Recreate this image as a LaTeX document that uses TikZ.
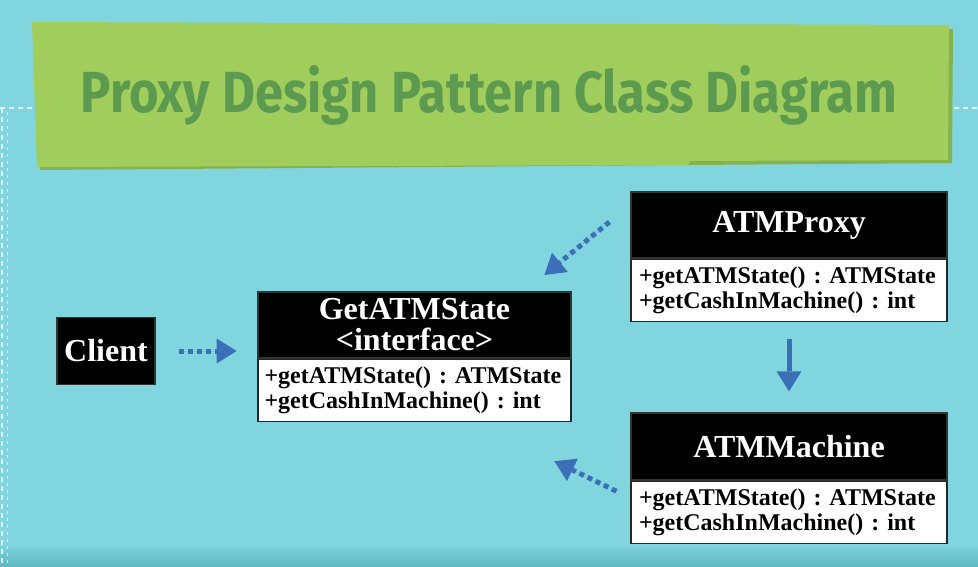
\documentclass[tikz,border=0pt]{standalone}
\usepackage{fontspec}
\setmainfont{Liberation Serif}
\newfontfamily\titlefont{Fira Sans}
\usetikzlibrary{arrows.meta,calc}
\frenchspacing
\definecolor{bgc}{HTML}{80D5DF}
\definecolor{bandc}{HTML}{5DB6C0}
\definecolor{bannerc}{HTML}{A0CD5C}
\definecolor{bannershade}{HTML}{86B24E}
\definecolor{titlec}{HTML}{5C9A50}
\definecolor{arrowc}{HTML}{3B70B8}
\tikzset{
  headbox/.style={draw=black!80, line width=1.2pt, fill=black, text=white,
    font=\bfseries\fontsize{32}{32}\selectfont, align=center, inner sep=0pt},
  bodybox/.style={draw=black!85, line width=1.2pt, fill=white, text=black,
    font=\bfseries\fontsize{24}{24.5}\selectfont, align=left, inner sep=0pt,
    text width=300pt},
  dotarrow/.style={draw=arrowc, line width=5pt, dash pattern=on 5pt off 4pt,
    -{Triangle[length=20pt,width=25pt,line width=0pt,sep=0pt]}, fill=arrowc},
  solidarrow/.style={draw=arrowc, line width=5pt,
    -{Triangle[length=20pt,width=25pt,line width=0pt]}, fill=arrowc},
  guide/.style={white, line width=1.5pt, dash pattern=on 5pt off 4pt, opacity=0.75},
}
\begin{document}
\begin{tikzpicture}[x=1pt,y=-1pt]
\useasboundingbox (0,0) rectangle (978,567);
% background
\fill[bgc] (0,0) rectangle (978,567);
\shade[top color=bgc, bottom color=bandc] (0,545) rectangle (978,567);
\draw[guide] (0,108) -- (978,108);
\draw[guide] (2,108) -- (2,567);
\draw[guide, line width=1pt, dash pattern=on 3pt off 4pt] (7,112) -- (7,567);
% banner
\fill[bannershade] (36,27) -- (953,29) -- (952,163) -- (40,170) -- cycle;
\fill[bannerc] (32,22) -- (949,25) -- (948,160) -- (690,161) -- (688,165) -- (37,167) -- cycle;
\node[text=titlec, font=\titlefont\bfseries, inner sep=0pt, anchor=base] (title) at (489,113)
  {\resizebox{816pt}{47pt}{Proxy Design Pattern Class Diagram}};
% client
\node[headbox, minimum width=98pt, minimum height=67pt] (client) at (106,351) {Client};
% GetATMState
\node[headbox, minimum width=313pt, minimum height=66pt] (gethead) at (414.5,325)
  {GetATMState\\[-1pt]<interface>};
\node[bodybox, minimum width=313pt, minimum height=62pt, anchor=north] (getbody) at (gethead.south)
  {+getATMState() : ATMState\\+getCashInMachine() : int};
% ATMProxy
\node[headbox, minimum width=316pt, minimum height=66pt] (proxyhead) at (789,225) {ATMProxy};
\node[bodybox, minimum width=316pt, minimum height=62pt, anchor=north] (proxybody) at (proxyhead.south)
  {+getATMState() : ATMState\\+getCashInMachine() : int};
% ATMMachine
\node[headbox, minimum width=316pt, minimum height=67pt] (machead) at (789,446.5) {ATMMachine};
\node[bodybox, minimum width=316pt, minimum height=62pt, anchor=north] (macbody) at (machead.south)
  {+getATMState() : ATMState\\+getCashInMachine() : int};
% connectors
\draw[dotarrow] ($(client.east)+(23,0)$) -- ($(client.east)+(81,0)$);
\draw[dotarrow] ($(proxyhead.west)+(-21,-3)$) -- ($(proxyhead.west)+(-86,50)$);
\draw[solidarrow] ($(proxybody.south)+(0,17)$) -- ($(machead.north)+(0,-21)$);
\draw[dotarrow] ($(macbody.west)+(-14,-21)$) -- ($(macbody.west)+(-76,-51)$);
\end{tikzpicture}
\end{document}
